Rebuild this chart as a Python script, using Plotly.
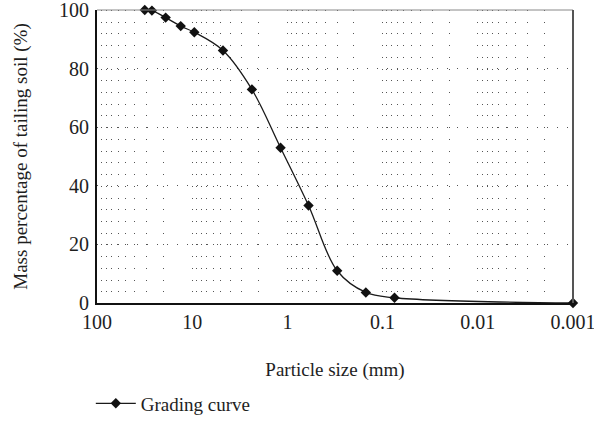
import plotly.graph_objects as go

# Data
particle_size_mm = [31.5, 26.5, 19.0, 13.2, 9.5, 4.75, 2.36, 1.18, 0.6, 0.3, 0.15, 0.075, 0.001]
mass_percent = [100.0, 99.8, 97.4, 94.5, 92.4, 86.2, 72.9, 53.0, 33.3, 11.0, 3.6, 1.8, 0.0]
series_name = "Grading curve"

x_tick_vals = [100, 10, 1, 0.1, 0.01, 0.001]
x_tick_text = ["100", "10", "1", "0.1", "0.01", "0.001"]
y_tick_vals = [0, 20, 40, 60, 80, 100]

# minor log grid positions (2..9 x 10^k)
minor_vals = []
for dec in [10, 1, 0.1, 0.01, 0.001]:
    for m in range(2, 10):
        minor_vals.append(round(m * dec, 6))

FONT = "Liberation Serif"
TXT = "#1e1e1e"

fig = go.Figure()
fig.add_trace(go.Scatter(
    x=particle_size_mm, y=mass_percent, name=series_name,
    mode="lines+markers",
    line=dict(color="#1a1a1a", width=1.3, shape="spline", smoothing=1.0),
    marker=dict(symbol="diamond", size=8, color="#111111"),
    cliponaxis=False,
))

all_x_vals = x_tick_vals + minor_vals
all_x_text = x_tick_text + [""] * len(minor_vals)

fig.update_layout(
    width=594, height=430,
    margin=dict(l=97, r=21, t=10, b=127, autoexpand=False),
    paper_bgcolor="white", plot_bgcolor="white",
    font=dict(family=FONT, size=19, color=TXT),
    showlegend=True,
    legend=dict(x=-0.013, y=-0.278, xanchor="left", yanchor="top",
                itemwidth=40,
                font=dict(family=FONT, size=19, color=TXT),
                bgcolor="rgba(0,0,0,0)"),
    xaxis=dict(
        type="log", range=[2, -3], automargin=False,
        tickmode="array", tickvals=all_x_vals, ticktext=all_x_text,
        showgrid=True, gridcolor="#555555", gridwidth=1, griddash="1px,10.72px",
        showline=True, linecolor="#111111", linewidth=2,
        ticks="", ticklabelstandoff=0, ticklabeloverflow="allow",
        tickfont=dict(family=FONT, size=20, color=TXT),
        zeroline=False,
        title=dict(text="Particle size (mm)", standoff=31,
                   font=dict(family=FONT, size=19, color=TXT)),
    ),
    yaxis=dict(
        range=[0, 100], automargin=False, tickmode="array", tickvals=y_tick_vals,
        showgrid=True, gridcolor="#555555", gridwidth=1, griddash="1px,9px",
        showline=True, linecolor="#111111", linewidth=2,
        ticks="", ticklabelstandoff=2, ticklabeloverflow="allow",
        tickfont=dict(family=FONT, size=20, color=TXT),
        zeroline=False,
        title=dict(text="Mass percentage of tailing soil (%)", standoff=26,
                   font=dict(family=FONT, size=19, color=TXT)),
    ),
    shapes=[
        dict(type="line", xref="paper", yref="paper", x0=0, x1=1, y0=1, y1=1,
             line=dict(color="#888888", width=1), layer="above"),
        dict(type="line", xref="paper", yref="paper", x0=1, x1=1, y0=0, y1=1,
             line=dict(color="#555555", width=2), layer="above"),
    ],
)

fig.write_html("out.html")
